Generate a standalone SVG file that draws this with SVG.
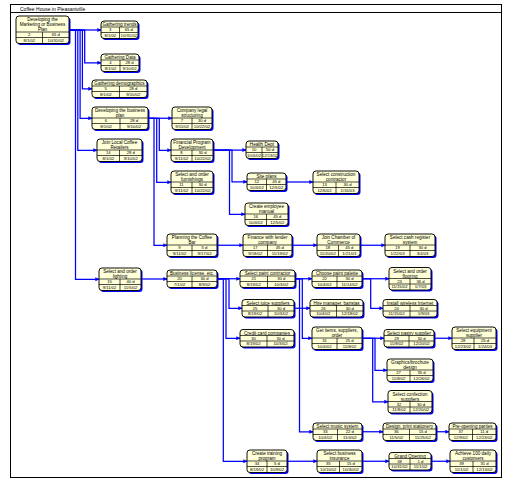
<svg xmlns="http://www.w3.org/2000/svg" width="510" height="486" viewBox="0 0 510 486">
<style>
.bg{fill:#fff}
.frame{fill:none;stroke:#000;stroke-width:1}
.sh{fill:#0000ff}
.box{fill:#ffffd8;stroke:#000;stroke-width:0.95}
.dv{fill:none;stroke:#000;stroke-width:0.7}
.t{font-family:"Liberation Sans",Arial,sans-serif;font-size:4.6px;text-anchor:middle;fill:#000}
.v{font-family:"Liberation Sans",Arial,sans-serif;font-size:4.2px;text-anchor:middle;fill:#000}
.ttl{font-family:"Liberation Sans",Arial,sans-serif;font-size:5px;fill:#000}
.c{fill:none;stroke:#0000ff;stroke-width:1.25;marker-end:url(#a)}
</style>
<defs>
<marker id="a" viewBox="0 0 6 6" refX="5.5" refY="3" markerWidth="4" markerHeight="4" markerUnits="userSpaceOnUse" orient="auto">
<path d="M0,0 L6,3 L0,6 z" fill="#0000ff"/>
</marker>
</defs>
<rect class="bg" x="0" y="0" width="510" height="486"/>
<rect class="frame" x="10.5" y="4.5" width="491" height="473"/>
<line class="frame" x1="10" y1="12.5" x2="501" y2="12.5"/>
<text class="ttl" x="20" y="10.5">Coffee House in Pleasantville</text>

<g id="connectors">
<path class="c" d="M69 30 H101"/>
<path class="c" d="M69 30 H84.7 V62.75 H101"/>
<path class="c" d="M69 30 H82.4 V88.75 H92"/>
<path class="c" d="M69 30 H80.1 V118.25 H92"/>
<path class="c" d="M69 30 H77.8 V150.25 H97"/>
<path class="c" d="M69 30 H75.5 V279.25 H99"/>
<path class="c" d="M148 118.25 H172"/>
<path class="c" d="M148 118.25 H159.3 V150.25 H171"/>
<path class="c" d="M148 118.25 H156.7 V182.25 H171"/>
<path class="c" d="M148 118.25 H154 V245.25 H167"/>
<path class="c" d="M213 150 H246"/>
<path class="c" d="M213 150 H232 V181.75 H247"/>
<path class="c" d="M213 150 H229.5 V214.25 H245"/>
<path class="c" d="M286 182 H313"/>
<path class="c" d="M217 245.25 H243"/>
<path class="c" d="M292 245.25 H317"/>
<path class="c" d="M360 245.25 H385"/>
<path class="c" d="M141 279 H167"/>
<path class="c" d="M217 278.75 H240"/>
<path class="c" d="M217 278.75 H229 V308.25 H242"/>
<path class="c" d="M217 278.75 H226 V338.25 H240"/>
<path class="c" d="M217 278.75 H223.3 V461.25 H247"/>
<path class="c" d="M295 278.75 H312"/>
<path class="c" d="M295 278.75 H302.3 V338.25 H312"/>
<path class="c" d="M295 278.75 H299.5 V431.75 H313"/>
<path class="c" d="M294 308.25 H310"/>
<path class="c" d="M362 278.75 H389"/>
<path class="c" d="M362 278.75 H370.7 V308.25 H383"/>
<path class="c" d="M362 338.25 H384"/>
<path class="c" d="M362 338.25 H375 V370.25 H387"/>
<path class="c" d="M362 338.25 H372.7 V401.75 H388"/>
<path class="c" d="M434 338.25 H452"/>
<path class="c" d="M362 431.75 H383"/>
<path class="c" d="M436 431.75 H449"/>
<path class="c" d="M287 461.25 H317"/>
<path class="c" d="M362 461.25 H389"/>
<path class="c" d="M431 461.25 H450"/>
</g>

<g id="n1"><rect class="sh" x="17.5" y="17.5" width="53" height="27.5" rx="3"/><rect class="box" x="16" y="16" width="53" height="27.5" rx="3"/><path class="dv" d="M16 32 H69 M16 37.5 H69 M42.5 32 V43.5"/><text class="t" x="42.5" y="21">Developing the</text><text class="t" x="42.5" y="26">Marketing or Business</text><text class="t" x="42.5" y="31">Plan</text><text class="v" x="29.25" y="36.3">2</text><text class="v" x="55.75" y="36.3">65 d</text><text class="v" x="29.25" y="41.8">8/1/02</text><text class="v" x="55.75" y="41.8">10/31/02</text></g>

<g id="n2"><rect class="sh" x="102.5" y="22.5" width="37" height="17.5" rx="3"/><rect class="box" x="101" y="21" width="37" height="17.5" rx="3"/><path class="dv" d="M101 27 H138 M101 32.5 H138 M119.5 27 V38.5"/><text class="t" x="119.5" y="26">Gathering trends</text><text class="v" x="110.25" y="31.3">3</text><text class="v" x="128.75" y="31.3">65 d</text><text class="v" x="110.25" y="36.8">8/1/02</text><text class="v" x="128.75" y="36.8">10/31/02</text></g>

<g id="n3"><rect class="sh" x="102.5" y="55.5" width="38" height="17.5" rx="3"/><rect class="box" x="101" y="54" width="38" height="17.5" rx="3"/><path class="dv" d="M101 60 H139 M101 65.5 H139 M120 60 V71.5"/><text class="t" x="120" y="59">Gathering Data</text><text class="v" x="110.5" y="64.3">4</text><text class="v" x="129.5" y="64.3">28 d</text><text class="v" x="110.5" y="69.8">8/1/02</text><text class="v" x="129.5" y="69.8">9/10/02</text></g>

<g id="n4"><rect class="sh" x="93.5" y="81.5" width="55" height="17.5" rx="3"/><rect class="box" x="92" y="80" width="55" height="17.5" rx="3"/><path class="dv" d="M92 86 H147 M92 91.5 H147 M119.5 86 V97.5"/><text class="t" x="119.5" y="85">Gathering demographics</text><text class="v" x="105.75" y="90.3">5</text><text class="v" x="133.25" y="90.3">28 d</text><text class="v" x="105.75" y="95.8">8/1/02</text><text class="v" x="133.25" y="95.8">9/10/02</text></g>

<g id="n5"><rect class="sh" x="93.5" y="108.5" width="56" height="22.5" rx="3"/><rect class="box" x="92" y="107" width="56" height="22.5" rx="3"/><path class="dv" d="M92 118 H148 M92 123.5 H148 M120 118 V129.5"/><text class="t" x="120" y="112">Developing the business</text><text class="t" x="120" y="117">plan</text><text class="v" x="106" y="122.3">6</text><text class="v" x="134" y="122.3">28 d</text><text class="v" x="106" y="127.8">8/1/02</text><text class="v" x="134" y="127.8">9/10/02</text></g>

<g id="n6"><rect class="sh" x="98.5" y="140.5" width="45" height="22.5" rx="3"/><rect class="box" x="97" y="139" width="45" height="22.5" rx="3"/><path class="dv" d="M97 150 H142 M97 155.5 H142 M119.5 150 V161.5"/><text class="t" x="119.5" y="144">Join Local Coffee</text><text class="t" x="119.5" y="149">Retailers</text><text class="v" x="108.25" y="154.3">14</text><text class="v" x="130.75" y="154.3">28 d</text><text class="v" x="108.25" y="159.8">8/1/02</text><text class="v" x="130.75" y="159.8">9/10/02</text></g>

<g id="n7"><rect class="sh" x="100.5" y="269.5" width="42" height="22.5" rx="3"/><rect class="box" x="99" y="268" width="42" height="22.5" rx="3"/><path class="dv" d="M99 279 H141 M99 284.5 H141 M120 279 V290.5"/><text class="t" x="120" y="273">Select and order</text><text class="t" x="120" y="278">lighting</text><text class="v" x="109.5" y="283.3">15</text><text class="v" x="130.5" y="283.3">40 d</text><text class="v" x="109.5" y="288.8">9/11/02</text><text class="v" x="130.5" y="288.8">11/5/02</text></g>

<g id="n8"><rect class="sh" x="173.5" y="108.5" width="40" height="22.5" rx="3"/><rect class="box" x="172" y="107" width="40" height="22.5" rx="3"/><path class="dv" d="M172 118 H212 M172 123.5 H212 M192 118 V129.5"/><text class="t" x="192" y="112">Company legal</text><text class="t" x="192" y="117">structuring</text><text class="v" x="182" y="122.3">7</text><text class="v" x="202" y="122.3">30 d</text><text class="v" x="182" y="127.8">9/11/02</text><text class="v" x="202" y="127.8">10/22/02</text></g>

<g id="n9"><rect class="sh" x="172.5" y="140.5" width="42" height="22.5" rx="3"/><rect class="box" x="171" y="139" width="42" height="22.5" rx="3"/><path class="dv" d="M171 150 H213 M171 155.5 H213 M192 150 V161.5"/><text class="t" x="192" y="144">Financial Program</text><text class="t" x="192" y="149">Development</text><text class="v" x="181.5" y="154.3">8</text><text class="v" x="202.5" y="154.3">30 d</text><text class="v" x="181.5" y="159.8">9/11/02</text><text class="v" x="202.5" y="159.8">10/22/02</text></g>

<g id="n10"><rect class="sh" x="172.5" y="172.5" width="42" height="22.5" rx="3"/><rect class="box" x="171" y="171" width="42" height="22.5" rx="3"/><path class="dv" d="M171 182 H213 M171 187.5 H213 M192 182 V193.5"/><text class="t" x="192" y="176">Select and order</text><text class="t" x="192" y="181">furnishings</text><text class="v" x="181.5" y="186.3">11</text><text class="v" x="202.5" y="186.3">30 d</text><text class="v" x="181.5" y="191.8">9/11/02</text><text class="v" x="202.5" y="191.8">10/22/02</text></g>

<g id="n11"><rect class="sh" x="247.5" y="142.5" width="32" height="17.5" rx="3"/><rect class="box" x="246" y="141" width="32" height="17.5" rx="3"/><path class="dv" d="M246 147 H278 M246 152.5 H278 M262 147 V158.5"/><text class="t" x="262" y="146">Health Dept</text><text class="v" x="254" y="151.3">10</text><text class="v" x="270" y="151.3">50 d</text><text class="v" x="254" y="156.8">10/4/02</text><text class="v" x="270" y="156.8">12/13/02</text></g>

<g id="n12"><rect class="sh" x="248.5" y="174.5" width="39" height="17.5" rx="3"/><rect class="box" x="247" y="173" width="39" height="17.5" rx="3"/><path class="dv" d="M247 179 H286 M247 184.5 H286 M266.5 179 V190.5"/><text class="t" x="266.5" y="178">Site plans</text><text class="v" x="256.75" y="183.3">12</text><text class="v" x="276.25" y="183.3">45 d</text><text class="v" x="256.75" y="188.8">10/4/02</text><text class="v" x="276.25" y="188.8">12/5/02</text></g>

<g id="n13"><rect class="sh" x="314.5" y="172.5" width="46" height="22.5" rx="3"/><rect class="box" x="313" y="171" width="46" height="22.5" rx="3"/><path class="dv" d="M313 182 H359 M313 187.5 H359 M336 182 V193.5"/><text class="t" x="336" y="176">Select construction</text><text class="t" x="336" y="181">contractor</text><text class="v" x="324.5" y="186.3">13</text><text class="v" x="347.5" y="186.3">30 d</text><text class="v" x="324.5" y="191.8">12/6/02</text><text class="v" x="347.5" y="191.8">1/16/03</text></g>

<g id="n14"><rect class="sh" x="246.5" y="204.5" width="43" height="22.5" rx="3"/><rect class="box" x="245" y="203" width="43" height="22.5" rx="3"/><path class="dv" d="M245 214 H288 M245 219.5 H288 M266.5 214 V225.5"/><text class="t" x="266.5" y="208">Create employee</text><text class="t" x="266.5" y="213">manual</text><text class="v" x="255.75" y="218.3">16</text><text class="v" x="277.25" y="218.3">45 d</text><text class="v" x="255.75" y="223.8">10/4/02</text><text class="v" x="277.25" y="223.8">12/5/02</text></g>

<g id="n15"><rect class="sh" x="168.5" y="235.5" width="50" height="22.5" rx="3"/><rect class="box" x="167" y="234" width="50" height="22.5" rx="3"/><path class="dv" d="M167 245 H217 M167 250.5 H217 M192 245 V256.5"/><text class="t" x="192" y="239">Planning the Coffee</text><text class="t" x="192" y="244">Bar</text><text class="v" x="179.5" y="249.3">9</text><text class="v" x="204.5" y="249.3">5 d</text><text class="v" x="179.5" y="254.8">9/11/02</text><text class="v" x="204.5" y="254.8">9/17/02</text></g>

<g id="n16"><rect class="sh" x="244.5" y="235.5" width="49" height="22.5" rx="3"/><rect class="box" x="243" y="234" width="49" height="22.5" rx="3"/><path class="dv" d="M243 245 H292 M243 250.5 H292 M267.5 245 V256.5"/><text class="t" x="267.5" y="239">Finance with lender</text><text class="t" x="267.5" y="244">company</text><text class="v" x="255.25" y="249.3">17</text><text class="v" x="279.75" y="249.3">45 d</text><text class="v" x="255.25" y="254.8">9/18/02</text><text class="v" x="279.75" y="254.8">11/19/02</text></g>

<g id="n17"><rect class="sh" x="318.5" y="235.5" width="43" height="22.5" rx="3"/><rect class="box" x="317" y="234" width="43" height="22.5" rx="3"/><path class="dv" d="M317 245 H360 M317 250.5 H360 M338.5 245 V256.5"/><text class="t" x="338.5" y="239">Join Chamber of</text><text class="t" x="338.5" y="244">Commerce</text><text class="v" x="327.75" y="249.3">18</text><text class="v" x="349.25" y="249.3">45 d</text><text class="v" x="327.75" y="254.8">11/20/02</text><text class="v" x="349.25" y="254.8">1/21/03</text></g>

<g id="n18"><rect class="sh" x="386.5" y="235.5" width="50" height="22.5" rx="3"/><rect class="box" x="385" y="234" width="50" height="22.5" rx="3"/><path class="dv" d="M385 245 H435 M385 250.5 H435 M410 245 V256.5"/><text class="t" x="410" y="239">Select cash register</text><text class="t" x="410" y="244">system</text><text class="v" x="397.5" y="249.3">19</text><text class="v" x="422.5" y="249.3">30 d</text><text class="v" x="397.5" y="254.8">1/22/03</text><text class="v" x="422.5" y="254.8">3/4/03</text></g>

<g id="n19"><rect class="sh" x="168.5" y="271.5" width="50" height="17.5" rx="3"/><rect class="box" x="167" y="270" width="50" height="17.5" rx="3"/><path class="dv" d="M167 276 H217 M167 281.5 H217 M192 276 V287.5"/><text class="t" x="192" y="275">Business license, etc.</text><text class="v" x="179.5" y="280.3">20</text><text class="v" x="204.5" y="280.3">30 d</text><text class="v" x="179.5" y="285.8">7/1/02</text><text class="v" x="204.5" y="285.8">8/9/02</text></g>

<g id="n20"><rect class="sh" x="241.5" y="271.5" width="55" height="17.5" rx="3"/><rect class="box" x="240" y="270" width="55" height="17.5" rx="3"/><path class="dv" d="M240 276 H295 M240 281.5 H295 M267.5 276 V287.5"/><text class="t" x="267.5" y="275">Select paint contractor</text><text class="v" x="253.75" y="280.3">21</text><text class="v" x="281.25" y="280.3">30 d</text><text class="v" x="253.75" y="285.8">8/19/02</text><text class="v" x="281.25" y="285.8">10/3/02</text></g>

<g id="n21"><rect class="sh" x="313.5" y="271.5" width="50" height="17.5" rx="3"/><rect class="box" x="312" y="270" width="50" height="17.5" rx="3"/><path class="dv" d="M312 276 H362 M312 281.5 H362 M337 276 V287.5"/><text class="t" x="337" y="275">Choose paint palette</text><text class="v" x="324.5" y="280.3">22</text><text class="v" x="349.5" y="280.3">30 d</text><text class="v" x="324.5" y="285.8">10/4/02</text><text class="v" x="349.5" y="285.8">11/14/02</text></g>

<g id="n22"><rect class="sh" x="390.5" y="269" width="42" height="22.5" rx="3"/><rect class="box" x="389" y="267.5" width="42" height="22.5" rx="3"/><path class="dv" d="M389 278.5 H431 M389 284 H431 M410 278.5 V290"/><text class="t" x="410" y="272.5">Select and order</text><text class="t" x="410" y="277.5">flooring</text><text class="v" x="399.5" y="282.8">23</text><text class="v" x="420.5" y="282.8">36 d</text><text class="v" x="399.5" y="288.3">11/15/02</text><text class="v" x="420.5" y="288.3">1/7/03</text></g>

<g id="n23"><rect class="sh" x="384.5" y="301" width="54" height="17.5" rx="3"/><rect class="box" x="383" y="299.5" width="54" height="17.5" rx="3"/><path class="dv" d="M383 305.5 H437 M383 311 H437 M410 305.5 V317"/><text class="t" x="410" y="304.5">Install wireless Internet</text><text class="v" x="396.5" y="309.8">24</text><text class="v" x="423.5" y="309.8">30 d</text><text class="v" x="396.5" y="315.3">11/15/02</text><text class="v" x="423.5" y="315.3">1/9/03</text></g>

<g id="n24"><rect class="sh" x="243.5" y="301" width="52" height="17.5" rx="3"/><rect class="box" x="242" y="299.5" width="52" height="17.5" rx="3"/><path class="dv" d="M242 305.5 H294 M242 311 H294 M268 305.5 V317"/><text class="t" x="268" y="304.5">Select juice suppliers</text><text class="v" x="255" y="309.8">25</text><text class="v" x="281" y="309.8">30 d</text><text class="v" x="255" y="315.3">8/19/02</text><text class="v" x="281" y="315.3">10/3/02</text></g>

<g id="n25"><rect class="sh" x="311.5" y="301" width="53" height="17.5" rx="3"/><rect class="box" x="310" y="299.5" width="53" height="17.5" rx="3"/><path class="dv" d="M310 305.5 H363 M310 311 H363 M336.5 305.5 V317"/><text class="t" x="336.5" y="304.5">Hire manager, baristas</text><text class="v" x="323.25" y="309.8">26</text><text class="v" x="349.75" y="309.8">30 d</text><text class="v" x="323.25" y="315.3">10/4/02</text><text class="v" x="349.75" y="315.3">12/18/02</text></g>

<g id="n26"><rect class="sh" x="241.5" y="331" width="54" height="17.5" rx="3"/><rect class="box" x="240" y="329.5" width="54" height="17.5" rx="3"/><path class="dv" d="M240 335.5 H294 M240 341 H294 M267 335.5 V347"/><text class="t" x="267" y="334.5">Credit card companies</text><text class="v" x="253.5" y="339.8">30</text><text class="v" x="280.5" y="339.8">30 d</text><text class="v" x="253.5" y="345.3">8/19/02</text><text class="v" x="280.5" y="345.3">10/3/02</text></g>

<g id="n27"><rect class="sh" x="313.5" y="328.5" width="50" height="22.5" rx="3"/><rect class="box" x="312" y="327" width="50" height="22.5" rx="3"/><path class="dv" d="M312 338 H362 M312 343.5 H362 M337 338 V349.5"/><text class="t" x="337" y="332">Get items, suppliers,</text><text class="t" x="337" y="337">order</text><text class="v" x="324.5" y="342.3">31</text><text class="v" x="349.5" y="342.3">25 d</text><text class="v" x="324.5" y="347.8">10/4/02</text><text class="v" x="349.5" y="347.8">11/8/02</text></g>

<g id="n28"><rect class="sh" x="385.5" y="331" width="50" height="17.5" rx="3"/><rect class="box" x="384" y="329.5" width="50" height="17.5" rx="3"/><path class="dv" d="M384 335.5 H434 M384 341 H434 M409 335.5 V347"/><text class="t" x="409" y="334.5">Select pastry supplier</text><text class="v" x="396.5" y="339.8">29</text><text class="v" x="421.5" y="339.8">30 d</text><text class="v" x="396.5" y="345.3">11/8/02</text><text class="v" x="421.5" y="345.3">12/20/02</text></g>

<g id="n29"><rect class="sh" x="453.5" y="328.5" width="44" height="22.5" rx="3"/><rect class="box" x="452" y="327" width="44" height="22.5" rx="3"/><path class="dv" d="M452 338 H496 M452 343.5 H496 M474 338 V349.5"/><text class="t" x="474" y="332">Select equipment</text><text class="t" x="474" y="337">supplier</text><text class="v" x="463" y="342.3">28</text><text class="v" x="485" y="342.3">25 d</text><text class="v" x="463" y="347.8">12/23/02</text><text class="v" x="485" y="347.8">1/24/03</text></g>

<g id="n30"><rect class="sh" x="388.5" y="360.5" width="46" height="22.5" rx="3"/><rect class="box" x="387" y="359" width="46" height="22.5" rx="3"/><path class="dv" d="M387 370 H433 M387 375.5 H433 M410 370 V381.5"/><text class="t" x="410" y="364">Graphics/brochure</text><text class="t" x="410" y="369">design</text><text class="v" x="398.5" y="374.3">27</text><text class="v" x="421.5" y="374.3">35 d</text><text class="v" x="398.5" y="379.8">11/8/02</text><text class="v" x="421.5" y="379.8">12/26/02</text></g>

<g id="n31"><rect class="sh" x="389.5" y="392" width="44" height="22.5" rx="3"/><rect class="box" x="388" y="390.5" width="44" height="22.5" rx="3"/><path class="dv" d="M388 401.5 H432 M388 407 H432 M410 401.5 V413"/><text class="t" x="410" y="395.5">Select confection</text><text class="t" x="410" y="400.5">suppliers</text><text class="v" x="399" y="405.8">32</text><text class="v" x="421" y="405.8">30 d</text><text class="v" x="399" y="411.3">11/8/02</text><text class="v" x="421" y="411.3">12/20/02</text></g>

<g id="n32"><rect class="sh" x="314.5" y="424.5" width="49" height="17.5" rx="3"/><rect class="box" x="313" y="423" width="49" height="17.5" rx="3"/><path class="dv" d="M313 429 H362 M313 434.5 H362 M337.5 429 V440.5"/><text class="t" x="337.5" y="428">Select music system</text><text class="v" x="325.25" y="433.3">33</text><text class="v" x="349.75" y="433.3">22 d</text><text class="v" x="325.25" y="438.8">10/4/02</text><text class="v" x="349.75" y="438.8">11/4/02</text></g>

<g id="n33"><rect class="sh" x="248.5" y="451.5" width="40" height="22.5" rx="3"/><rect class="box" x="247" y="450" width="40" height="22.5" rx="3"/><path class="dv" d="M247 461 H287 M247 466.5 H287 M267 461 V472.5"/><text class="t" x="267" y="455">Create training</text><text class="t" x="267" y="460">program</text><text class="v" x="257" y="465.3">34</text><text class="v" x="277" y="465.3">5 d</text><text class="v" x="257" y="470.8">8/19/02</text><text class="v" x="277" y="470.8">10/9/02</text></g>

<g id="n34"><rect class="sh" x="318.5" y="451.5" width="45" height="22.5" rx="3"/><rect class="box" x="317" y="450" width="45" height="22.5" rx="3"/><path class="dv" d="M317 461 H362 M317 466.5 H362 M339.5 461 V472.5"/><text class="t" x="339.5" y="455">Select business</text><text class="t" x="339.5" y="460">insurance</text><text class="v" x="328.25" y="465.3">35</text><text class="v" x="350.75" y="465.3">15 d</text><text class="v" x="328.25" y="470.8">10/10/02</text><text class="v" x="350.75" y="470.8">10/30/02</text></g>

<g id="n35"><rect class="sh" x="384.5" y="424.5" width="53" height="17.5" rx="3"/><rect class="box" x="383" y="423" width="53" height="17.5" rx="3"/><path class="dv" d="M383 429 H436 M383 434.5 H436 M409.5 429 V440.5"/><text class="t" x="409.5" y="428">Design, print stationery</text><text class="v" x="396.25" y="433.3">36</text><text class="v" x="422.75" y="433.3">15 d</text><text class="v" x="396.25" y="438.8">11/5/02</text><text class="v" x="422.75" y="438.8">11/25/02</text></g>

<g id="n36"><rect class="sh" x="450.5" y="424.5" width="47" height="17.5" rx="3"/><rect class="box" x="449" y="423" width="47" height="17.5" rx="3"/><path class="dv" d="M449 429 H496 M449 434.5 H496 M472.5 429 V440.5"/><text class="t" x="472.5" y="428">Pre-opening parties</text><text class="v" x="460.75" y="433.3">37</text><text class="v" x="484.25" y="433.3">11 d</text><text class="v" x="460.75" y="438.8">12/9/02</text><text class="v" x="484.25" y="438.8">12/23/02</text></g>

<g id="n37"><rect class="sh" x="390.5" y="454" width="42" height="17.5" rx="3"/><rect class="box" x="389" y="452.5" width="42" height="17.5" rx="3"/><path class="dv" d="M389 458.5 H431 M389 464 H431 M410 458.5 V470"/><text class="t" x="410" y="457.5">Grand Opening</text><text class="v" x="399.5" y="462.8">38</text><text class="v" x="420.5" y="462.8">1 d</text><text class="v" x="399.5" y="468.3">10/31/02</text><text class="v" x="420.5" y="468.3">11/1/02</text></g>

<g id="n38"><rect class="sh" x="451.5" y="451.5" width="46" height="22.5" rx="3"/><rect class="box" x="450" y="450" width="46" height="22.5" rx="3"/><path class="dv" d="M450 461 H496 M450 466.5 H496 M473 461 V472.5"/><text class="t" x="473" y="455">Achieve 100 daily</text><text class="t" x="473" y="460">customers</text><text class="v" x="461.5" y="465.3">39</text><text class="v" x="484.5" y="465.3">31 d</text><text class="v" x="461.5" y="470.8">11/1/02</text><text class="v" x="484.5" y="470.8">12/13/02</text></g>
</svg>
